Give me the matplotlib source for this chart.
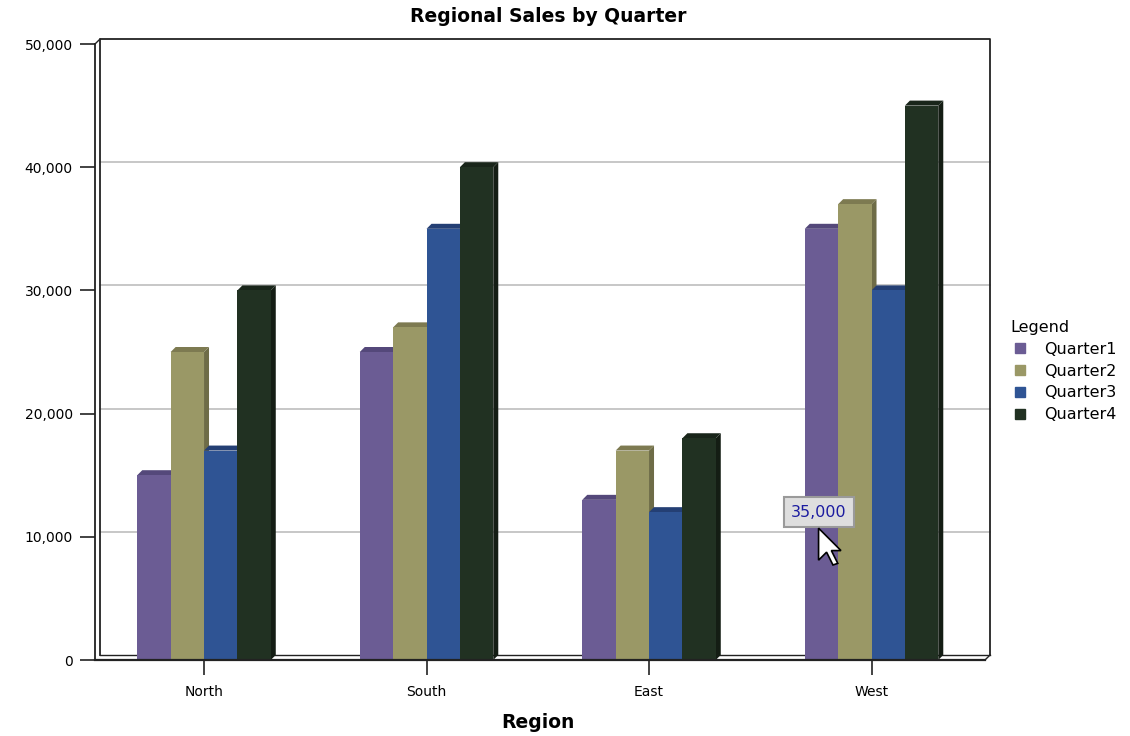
import matplotlib
matplotlib.use("Agg")
import matplotlib.pyplot as plt
import matplotlib.transforms as mtransforms
from matplotlib.patches import Polygon
from matplotlib.lines import Line2D
import numpy as np

regions = ["North", "South", "East", "West"]
quarters = ["Quarter1", "Quarter2", "Quarter3", "Quarter4"]
q1 = [15000, 25000, 13000, 35000]
q2 = [25000, 27000, 17000, 37000]
q3 = [17000, 35000, 12000, 30000]
q4 = [30000, 40000, 18000, 45000]
yticks = [0, 10000, 20000, 30000, 40000, 50000]
tooltip_value = 35000  # West / Quarter1 under the mouse

front_colors = ["#6b5c94", "#9a9866", "#2f5494", "#213122"]
top_colors = ["#54487a", "#7d7a51", "#243f74", "#19251a"]
side_colors = ["#463c66", "#6e6c47", "#1d3463", "#141d14"]

plt.rcParams["font.family"] = "DejaVu Sans"

fig = plt.figure(figsize=(11.3, 7.36), dpi=100)
ax = fig.add_axes([95 / 1130, 1 - 660 / 736, 890 / 1130, 616 / 736])
ax.set_xlim(-0.49, 3.51)
ax.set_ylim(0, 50000)
for s in ax.spines.values():
    s.set_visible(False)

depth = 5  # pixels of the fake 3D extrusion
wall = mtransforms.offset_copy(ax.transAxes, fig=fig, x=5, y=5, units="dots")
wall_data = mtransforms.offset_copy(ax.transData, fig=fig, x=5, y=5, units="dots")

# back wall with gridlines
ax.plot([0, 0, 1, 1], [0, 1, 1, 0], color="#222222", lw=1.3, transform=wall,
        zorder=1, clip_on=False)
ax.plot([0, 1], [0, 0], color="#222222", lw=1.0, transform=wall, zorder=1, clip_on=False)
for t in yticks[1:-1]:
    ax.plot([0, 1], [t, t], color="#bdbdbd", lw=1.2,
            transform=mtransforms.blended_transform_factory(wall, wall_data),
            zorder=0.5, clip_on=False)

# front axis lines + floor edges
ax.plot([0, 0], [0, 1], color="#222222", lw=1.3, transform=ax.transAxes, zorder=1, clip_on=False)
ax.plot([0, 1], [0, 0], color="#222222", lw=1.6, transform=ax.transAxes, zorder=4, clip_on=False)
ax.plot([0, 0.0056], [1, 1.008], color="#222222", lw=1.0, transform=ax.transAxes,
        zorder=1, clip_on=False)
ax.plot([1, 1.0056], [0, 0.008], color="#222222", lw=1.0, transform=ax.transAxes,
        zorder=1, clip_on=False)

# depth in data units
fig.canvas.draw()
p0 = ax.transData.transform((0, 0))
p1 = ax.transData.inverted().transform(p0 + depth)
dx, dy = p1[0], p1[1]

x = np.arange(len(regions))
width = 0.15
series = [q1, q2, q3, q4]
for i, vals in enumerate(series):
    left = x - 0.3 + i * width
    ax.bar(left, vals, width=width, align="edge", color=front_colors[i], zorder=3, label=quarters[i])
    for l, h in zip(left, vals):
        r = l + width
        ax.add_patch(Polygon([(r, 0), (r + dx, dy), (r + dx, h + dy), (r, h)],
                             closed=True, fc=side_colors[i], ec="none", zorder=2.9))
        ax.add_patch(Polygon([(l, h), (l + dx, h + dy), (r + dx, h + dy), (r, h)],
                             closed=True, fc=top_colors[i], ec="none", zorder=2.9))

ax.set_xticks(x)
ax.set_xticklabels(regions, fontsize=10)
ax.set_yticks(yticks)
ax.set_yticklabels([f"{t:,}" for t in yticks], fontsize=10)
ax.tick_params(axis="both", length=11, width=1.2, color="#222222", pad=7)
ax.tick_params(axis="y", pad=5)

fig.text(548 / 1130, 1 - 17 / 736, "Regional Sales by Quarter", ha="center", va="center",
         fontsize=13.5, fontweight="bold")
fig.text(538 / 1130, 1 - 722 / 736, "Region", ha="center", va="center",
         fontsize=13.5, fontweight="bold")

# legend
handles = [Line2D([], [], marker="s", ls="none", markersize=7, color=c, markeredgecolor=c)
           for c in front_colors]
leg = fig.legend(handles, quarters, title="Legend", loc="upper left",
                 bbox_to_anchor=(996 / 1130, 1 - 306 / 736), frameon=False, fontsize=11.5,
                 title_fontsize=11.5, handlelength=1.2, handletextpad=0.9, labelspacing=0.42,
                 alignment="left")

# tooltip + mouse cursor over West / Quarter1
tx = x[3] - 0.3 + width / 2 - 0.013
ax.text(tx, 12000, f"{tooltip_value:,}", ha="center", va="center", fontsize=11.5,
        color="#1c1ca0", zorder=6,
        bbox=dict(boxstyle="square,pad=0.45", fc="#dedede", ec="#9a9a9a", lw=1.5))
cursor = [(0, 0), (0, -20), (5, -15), (9, -23), (12, -22), (8, -14), (14, -14)]
ctr = mtransforms.Affine2D().scale(1.6) + mtransforms.ScaledTranslation(tx, 10700, ax.transData)
ax.add_patch(Polygon(cursor, closed=True, fc="white", ec="black", lw=1.2,
                     transform=ctr, zorder=7, clip_on=False))

fig.savefig("out.png", dpi=100)
